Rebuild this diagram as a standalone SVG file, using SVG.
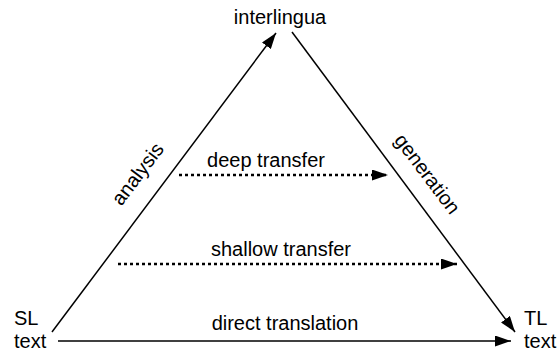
<svg xmlns="http://www.w3.org/2000/svg" width="558" height="354" viewBox="0 0 558 354">
<style>
text{font-family:"Liberation Sans",Arial,sans-serif;font-size:20px;fill:#000}
.solid{stroke:#000;stroke-width:1.5;fill:none}
.dot{stroke:#000;stroke-width:2.5;fill:none;stroke-dasharray:3 3}
</style>
<defs>
<marker id="ah" markerWidth="10" markerHeight="8" refX="10" refY="4" orient="auto" markerUnits="userSpaceOnUse" viewBox="0 0 10 8">
<path d="M0,0 L10,4 L0,8 z" fill="#000"/>
</marker>
<marker id="ahb" markerWidth="16" markerHeight="11" refX="16" refY="5.5" orient="auto" markerUnits="userSpaceOnUse" viewBox="0 0 16 11">
<path d="M0,0 L16,5.5 L0,11 z" fill="#000"/>
</marker>
</defs>
<g id="connectors">
<line class="solid" x1="52" y1="332" x2="276" y2="33" marker-end="url(#ahb)"/>
<line class="solid" x1="292" y1="32" x2="515" y2="332" marker-end="url(#ahb)"/>
<line class="solid" x1="58" y1="341" x2="511" y2="341" marker-end="url(#ahb)"/>
<line class="dot" x1="179" y1="175" x2="388" y2="175" marker-end="url(#ahb)"/>
<line class="dot" x1="118" y1="264" x2="457" y2="264" marker-end="url(#ahb)"/>
<text x="143" y="178" text-anchor="middle" transform="rotate(-53 143 178)">analysis</text>
<text x="422" y="178" text-anchor="middle" transform="rotate(53 422 178)">generation</text>
<text x="266" y="167" text-anchor="middle">deep transfer</text>
<text x="281" y="256" text-anchor="middle">shallow transfer</text>
<text x="285" y="330" text-anchor="middle">direct translation</text>
</g>
<g id="interlingua"><text x="280" y="24" text-anchor="middle">interlingua</text></g>
<g id="sl"><text x="14" y="325">SL</text><text x="14" y="348">text</text></g>
<g id="tl"><text x="524" y="325">TL</text><text x="524" y="348">text</text></g>
</svg>
